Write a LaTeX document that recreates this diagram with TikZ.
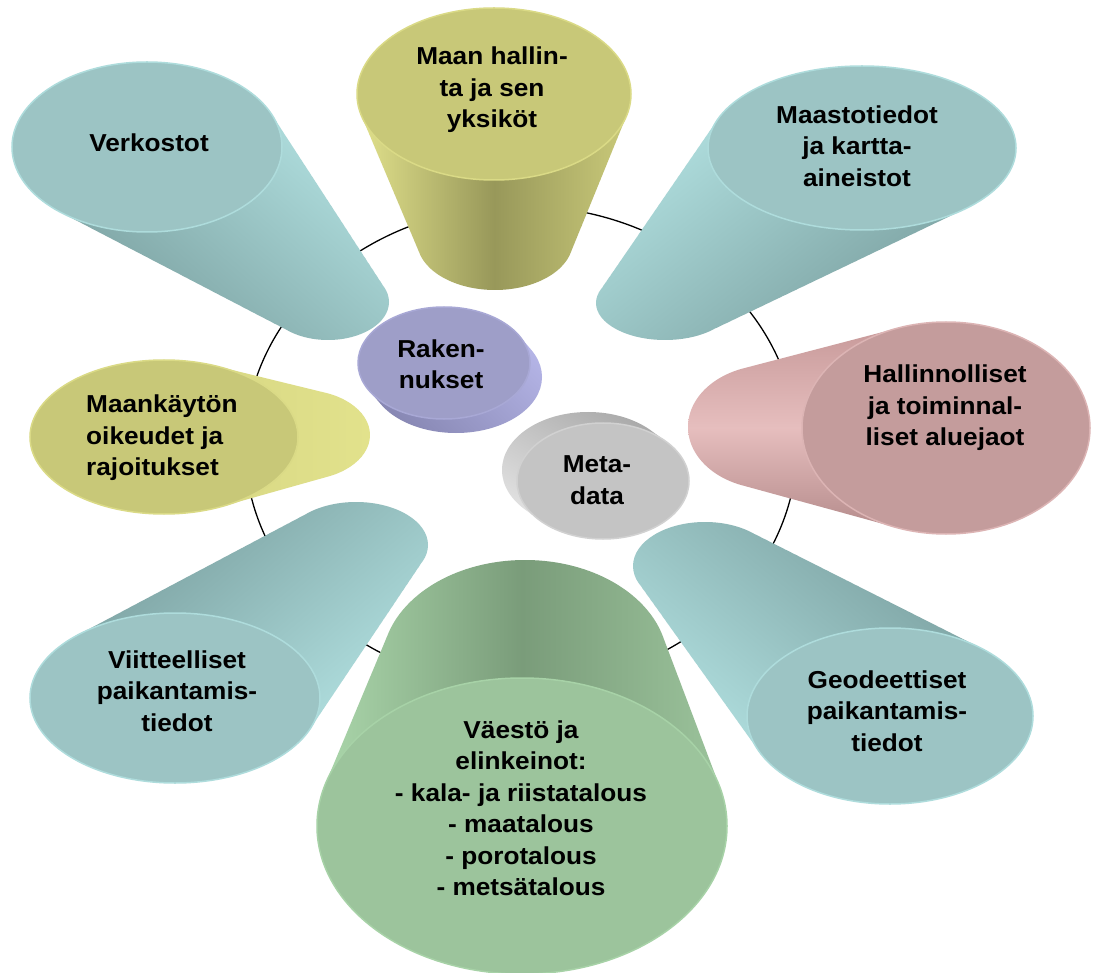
\documentclass[tikz,border=0pt]{standalone}
\usepackage{fontspec}
\setmainfont{Liberation Sans}[FakeStretch=1.07]
\usetikzlibrary{shapes.geometric}
\definecolor{tealF}{RGB}{156,196,196}
\definecolor{tealL}{RGB}{182,230,230}
\definecolor{tealD}{RGB}{118,154,154}
\definecolor{yelF}{RGB}{200,200,120}
\definecolor{yelL}{RGB}{226,226,140}
\definecolor{yelD}{RGB}{152,152,90}
\definecolor{pinkF}{RGB}{196,156,156}
\definecolor{pinkL}{RGB}{230,190,190}
\definecolor{pinkD}{RGB}{198,152,152}
\definecolor{grnF}{RGB}{156,196,156}
\definecolor{grnL}{RGB}{172,216,172}
\definecolor{grnD}{RGB}{122,156,122}
\definecolor{purF}{RGB}{158,158,200}
\definecolor{purL}{RGB}{182,182,232}
\definecolor{purD}{RGB}{134,134,178}
\definecolor{gryF}{RGB}{196,196,196}
\definecolor{gryL}{RGB}{228,228,228}
\definecolor{gryD}{RGB}{168,168,168}
% body of a cylinder: back ellipse (#1,#2,#3,#4), face ellipse (#5,#6,#7,#8), shading #9
\newcommand{\cylbody}[9]{%
  \shade[#9] foreach \k in {0,...,30} {
    ({#1+(#5-#1)*\k/30},{#2+(#6-#2)*\k/30})
      ellipse [x radius={#3+(#7-#3)*\k/30}, y radius={#4+(#8-#4)*\k/30}]
  };}
\tikzset{
  face/.style={ellipse, inner sep=0pt, line width=1.5pt},
  lbl/.style={font=\fontsize{24.5}{31.5}\selectfont\bfseries, align=center, inner sep=0pt},
  ring/.style={draw=black, line width=1.3pt, ellipse, inner sep=0pt}
}
\begin{document}
\begin{tikzpicture}[x=1pt,y=-1pt]
\useasboundingbox (0,0) rectangle (1095,973);
\fill[white] (0,0) rectangle (1095,973);
% ring
\node[ring, minimum width=552pt, minimum height=480pt] (ring) at (521,446) {};

% Meta-data disk
\cylbody{588}{470}{86}{58}{603}{481}{86}{58}{top color=gryD, bottom color=gryL, shading angle=-30}
\node[face, fill=gryF, draw=gryF!60!gryL, minimum width=172pt, minimum height=116pt] (fmeta) at (603,481) {};
% Rakennukset disk
\cylbody{456}{377}{86}{56}{444}{363}{86}{56}{top color=purL, bottom color=purD, shading angle=-45}
\node[face, fill=purF, draw=purF!60!purL, minimum width=172pt, minimum height=112pt] (frak) at (444,363) {};

% Verkostot
\cylbody{328}{302}{61}{38}{147}{147}{135}{85}{top color=tealL, bottom color=tealD, shading angle=-41}
\node[face, fill=tealF, draw=tealL!70!tealF, minimum width=270pt, minimum height=170pt] (fverk) at (147,147) {};
% Maan hallinta
\cylbody{495}{241}{78}{49}{494}{94}{137}{86}{left color=yelL, right color=yelF!90!yelL, middle color=yelD}
\node[face, fill=yelF, draw=yelL!70!yelF, minimum width=274pt, minimum height=172pt] (fmaan) at (494,94) {};
% Maastotiedot
\cylbody{665}{303}{69}{37}{862}{148}{154}{82}{top color=tealL, bottom color=tealD, shading angle=38}
\node[face, fill=tealF, draw=tealL!70!tealF, minimum width=308pt, minimum height=164pt] (fmaasto) at (862,148) {};
% Hallinnolliset
\cylbody{770}{427}{82}{62}{946}{428}{144}{106}{top color=pinkD, bottom color=pinkD!90!black, middle color=pinkL}
\node[face, fill=pinkF, draw=pinkL!70!pinkF, minimum width=288pt, minimum height=212pt] (fhall) at (946,428) {};
% Geodeettiset
\cylbody{705}{566}{72}{44}{890}{716}{143}{88}{top color=tealL, bottom color=tealD, shading angle=141}
\node[face, fill=tealF, draw=tealL!70!tealF, minimum width=286pt, minimum height=176pt] (fgeo) at (890,716) {};
% Viitteelliset
\cylbody{356}{545}{72}{43}{175}{698}{145}{85}{top color=tealL, bottom color=tealD, shading angle=-140}
\node[face, fill=tealF, draw=tealL!70!tealF, minimum width=290pt, minimum height=170pt] (fviite) at (175,698) {};
% Maankaytto
\cylbody{302}{435}{68}{45}{164}{437}{134}{77}{left color=yelF!80!yelL, right color=yelL}
\node[face, fill=yelF, draw=yelL!70!yelF, minimum width=268pt, minimum height=154pt] (fmaank) at (164,437) {};
% Vaesto
\cylbody{525}{664}{143}{104}{522}{826}{205}{148}{left color=grnL, right color=grnF, middle color=grnD}
\node[face, fill=grnF, draw=grnL!70!grnF, minimum width=410pt, minimum height=296pt] (fvaesto) at (522,826) {};

% labels
\node[lbl] (tverk) at (149,143) {Verkostot};
\node[lbl] (tmaan) at (492,90) {Maan hallin-\\ta ja sen\\yksiköt};
\node[lbl] (tmaasto) at (857,146) {Maastotiedot\\ja kartta-\\aineistot};
\node[lbl] (thall) at (945,408) {Hallinnolliset\\ja toiminnal-\\liset aluejaot};
\node[lbl] (tgeo) at (887,711) {Geodeettiset\\paikantamis-\\tiedot};
\node[lbl] (tvaesto) at (521,808) {Väestö ja\\elinkeinot:\\- kala- ja riistatalous\\- maatalous\\- porotalous\\- metsätalous};
\node[lbl] (tviite) at (177,691) {Viitteelliset\\paikantamis-\\tiedot};
\node[lbl, align=left, anchor=west] (tmaank) at (86,438) {Maankäytön\\oikeudet ja\\rajoitukset};
\node[lbl] (track) at (441,364) {Raken-\\nukset};
\node[lbl] (tmeta) at (597,480) {Meta-\\data};
\end{tikzpicture}
\end{document}
